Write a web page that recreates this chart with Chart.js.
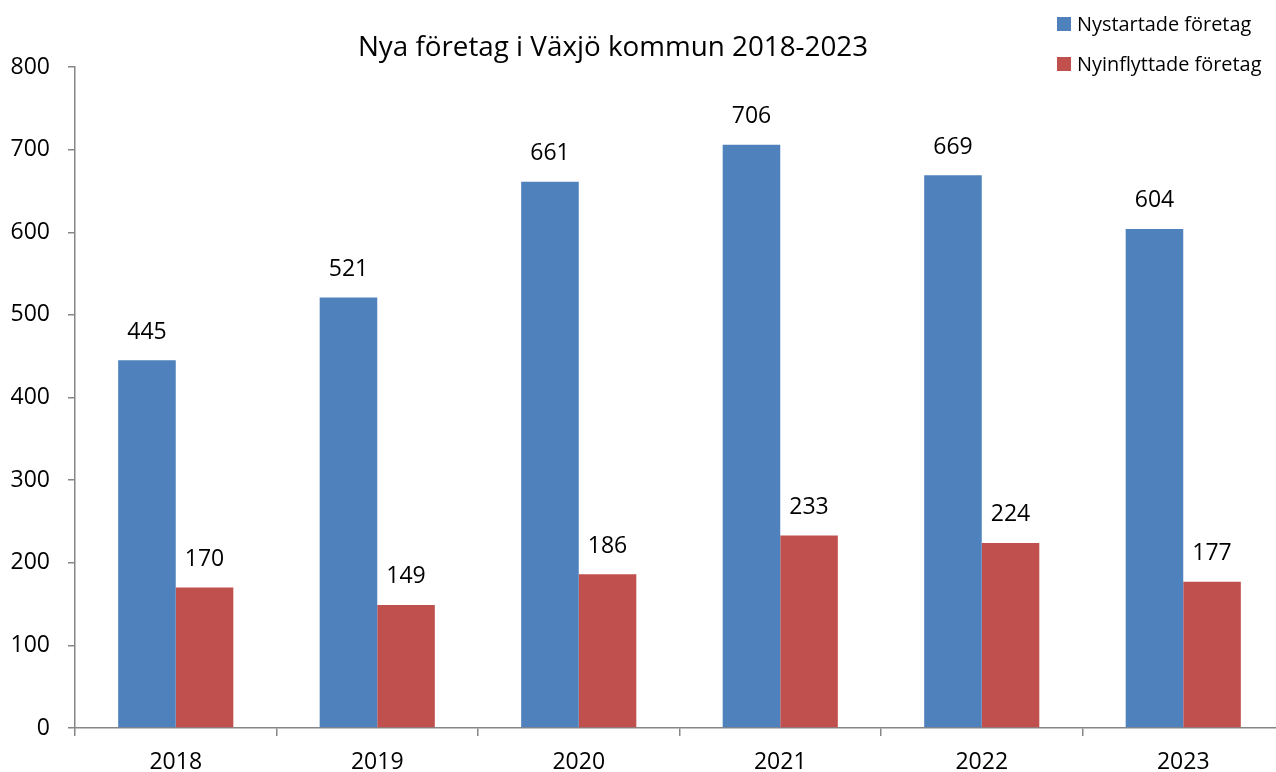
<!DOCTYPE html>
<html>
<head>
<meta charset="utf-8">
<script src="https://cdn.jsdelivr.net/npm/chart.js@4/dist/chart.umd.min.js"></script>
<style>
  html, body { margin: 0; padding: 0; background: #fff; overflow: hidden; width: 1276px; height: 772px; }
  #wrap { position: relative; width: 1276px; height: 772px; }
  canvas { position: absolute; left: 0; top: 0; }
  #title { position: absolute; left: 0; width: 1226px; top: 26px; text-align: center;
           font-family: "Open Sans", sans-serif; font-size: 27.8px; line-height: 38px; color: #000; }
  .leg { position: absolute; left: 1057px; font-family: "Open Sans", sans-serif; font-size: 19.9px; color: #000; line-height: 28px; white-space: nowrap; }
  .leg span.sw { position: absolute; left: 0; top: 7px; width: 14px; height: 14px; }
  .leg span.tx { position: absolute; left: 20px; top: 0; }
</style>
</head>
<body>
<div id="wrap">
  <canvas id="c" width="1284" height="772"></canvas>
  <div id="title"></div>
  <div class="leg" id="leg0" style="top:10px"><span class="sw"></span><span class="tx"></span></div>
  <div class="leg" id="leg1" style="top:50px"><span class="sw"></span><span class="tx"></span></div>
</div>
<script>
const titleText = "Nya företag i Växjö kommun 2018-2023";
const categories = ["2018", "2019", "2020", "2021", "2022", "2023"];
const seriesNames = ["Nystartade företag", "Nyinflyttade företag"];
const nystartade = [445, 521, 661, 706, 669, 604];
const nyinflyttade = [170, 149, 186, 233, 224, 177];
const yTicks = [0, 100, 200, 300, 400, 500, 600, 700, 800];
const colors = ["#4F81BD", "#C0504D"];

document.getElementById("title").textContent = titleText;
[0, 1].forEach(i => {
  const el = document.getElementById("leg" + i);
  el.querySelector(".sw").style.background = colors[i];
  el.querySelector(".tx").textContent = seriesNames[i];
});

const FONT = "'Open Sans', sans-serif";
const axisColor = "#868686";

const valueLabels = {
  id: "valueLabels",
  afterDatasetsDraw(chart) {
    const ctx = chart.ctx;
    ctx.save();
    ctx.font = "23px " + FONT;
    ctx.fillStyle = "#000";
    ctx.textAlign = "center";
    ctx.textBaseline = "middle";
    chart.data.datasets.forEach((ds, di) => {
      const meta = chart.getDatasetMeta(di);
      meta.data.forEach((bar, i) => {
        ctx.fillText(String(ds.data[i]), bar.x, bar.y - 28);
      });
    });
    ctx.restore();
  }
};

new Chart(document.getElementById("c"), {
  type: "bar",
  data: {
    labels: categories,
    datasets: [
      { label: seriesNames[0], data: nystartade, backgroundColor: colors[0], borderWidth: 0 },
      { label: seriesNames[1], data: nyinflyttade, backgroundColor: colors[1], borderWidth: 0 }
    ]
  },
  options: {
    responsive: false,
    animation: false,
    devicePixelRatio: 1,
    layout: { padding: { top: 67, left: 0, right: 0, bottom: 0 } },
    datasets: { bar: { categoryPercentage: 0.5714, barPercentage: 1.0 } },
    plugins: {
      legend: { display: false },
      title: { display: false },
      tooltip: { enabled: false }
    },
    scales: {
      x: {
        offset: true,
        grid: { offset: true, drawOnChartArea: false, drawTicks: true, tickLength: 8, color: axisColor, lineWidth: 1.5 },
        border: { color: axisColor, width: 1.5 },
        ticks: { color: "#000", font: { family: FONT, size: 23 }, padding: 13, maxRotation: 0 },
        afterFit(scale) { scale.height = 44; }
      },
      y: {
        min: 0, max: 800,
        afterBuildTicks(scale) { scale.ticks = yTicks.map(v => ({ value: v })); },
        grid: { drawOnChartArea: false, drawTicks: true, tickLength: 7, color: axisColor, lineWidth: 1.5 },
        border: { color: axisColor, width: 1.5 },
        ticks: { color: "#000", font: { family: FONT, size: 23 }, padding: 18 },
        afterFit(scale) { scale.width = 75; }
      }
    }
  },
  plugins: [valueLabels]
});
</script>
</body>
</html>
